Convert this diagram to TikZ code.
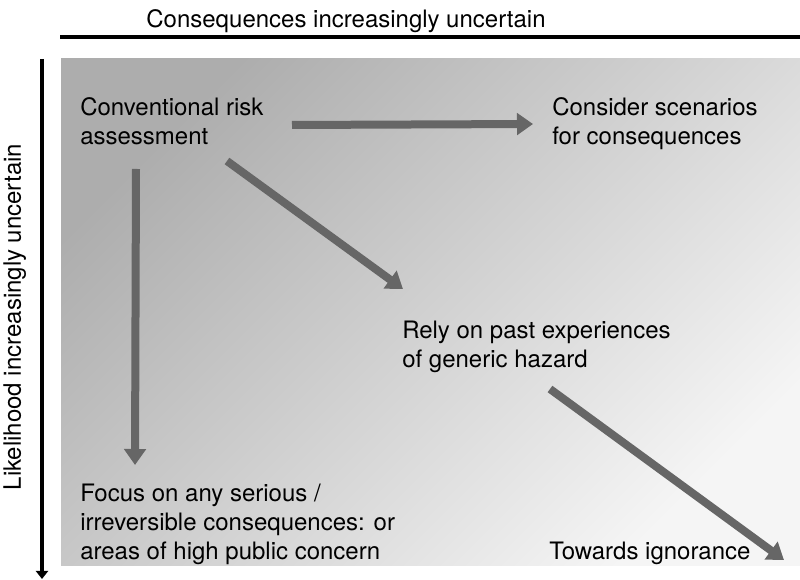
\documentclass[tikz,border=0pt]{standalone}
\usepackage{fontspec}
\setmainfont{TeX Gyre Heros}
\usetikzlibrary{arrows.meta,positioning,calc}
\definecolor{shadedark}{gray}{0.68}
\definecolor{shadelight}{gray}{0.96}
\definecolor{arrowgray}{gray}{0.40}
\begin{document}
\begin{tikzpicture}[
    x=0.75pt, y=-0.75pt,
    label/.style = {inner sep=0pt, align=left, anchor=base west, font=\fontsize{18}{22}\selectfont},
    flow/.style = {draw=arrowgray, line width=6pt, -{Triangle[width=16pt,length=12pt]}},
    axisline/.style = {draw=black, line width=3pt}
]
    \useasboundingbox (0,0) rectangle (800,580);

    % Background panel
    \shade[top color=shadedark, bottom color=shadelight, shading angle=45] (61,59) rectangle (800,566);

    % Axes
    \coordinate (topleft) at (60,37);
    \coordinate (topright) at (800,37);
    \coordinate (sidetop) at (42,59);
    \coordinate (sidebottom) at (42,579);
    \draw[axisline] (topleft) -- (topright);
    \draw[axisline, -{Triangle[width=9pt,length=6pt]}] (sidetop) -- (sidebottom);

    % Axis titles
    \node[label, anchor=base] (xtitle) at (346,28) {Consequences increasingly uncertain};
    \node[label, anchor=base, rotate=90] (ytitle) at (21,317) {Likelihood increasingly uncertain};

    % Approaches (anchored on the baseline of their last line)
    \node[label] (conv) at (80,145) {Conventional risk\\assessment};
    \node[label] (consider) at (552,145) {Consider scenarios\\for consequences};
    \node[label] (rely) at (402,368) {Rely on past experiences\\of generic hazard};
    \node[label] (focus) at (80,560) {Focus on any serious /\\irreversible consequences: or\\areas of high public concern};
    \node[label] (towards) at (549,560) {Towards ignorance};

    % Arrows
    \draw[flow] ([shift={(212,-20)}]conv.base west) -- ([shift={(-19,-21)}]consider.base west);
    \draw[flow] ([shift={(56,24)}]conv.base west) -- ([shift={(55,-95)}]focus.base west);
    \draw[flow] ([shift={(147,16)}]conv.base west) -- ([shift={(1,-79)}]rely.base west);
    \draw[flow] ([shift={(148,21)}]rely.base west) -- ([shift={(235,0)}]towards.base west);

\end{tikzpicture}
\end{document}
